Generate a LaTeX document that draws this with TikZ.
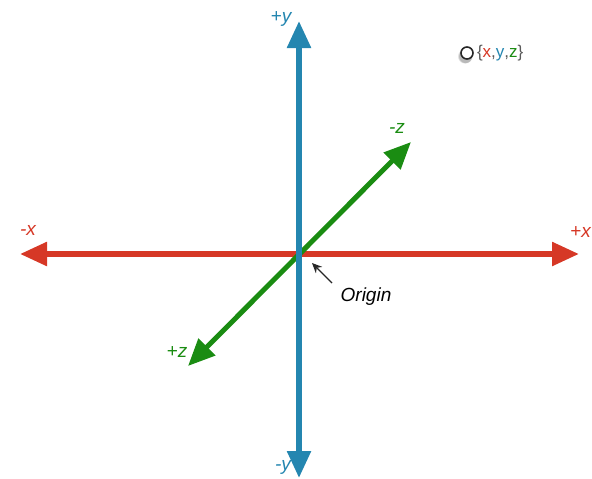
\documentclass[tikz,border=0pt]{standalone}
\usepackage{fontspec}
\setmainfont{Liberation Sans}
\usetikzlibrary{arrows.meta,shadows}

\definecolor{axisred}{RGB}{214,56,38}
\definecolor{axisblue}{RGB}{36,134,176}
\definecolor{axisgreen}{RGB}{26,140,18}
\definecolor{bracegray}{RGB}{90,90,90}

\begin{document}
\begin{tikzpicture}[
  x=1pt, y=-1pt,
  every node/.style={font=\fontsize{19}{21}\selectfont\itshape},
  axis/.style={
    draw=#1,
    line width=5.5pt,
    {Triangle[length=27pt,width=23pt,fill=#1]}-{Triangle[length=27pt,width=23pt,fill=#1]}
  },
  axislabel/.style={text=#1, inner sep=0pt},
  pointer/.style={-{Stealth[length=10pt,width=9pt]}, line width=1.4pt, draw=black!85},
]
\useasboundingbox (0,0) rectangle (592,479);

% Axis end points.
\coordinate (O) at (299,254);
\coordinate (xneg) at (20,254);
\coordinate (xpos) at (579,254);
\coordinate (ypos) at (299,21);
\coordinate (yneg) at (299,478);
\coordinate (zneg) at (411,142);
\coordinate (zpos) at (188,366);

% Axes.
\draw[axis=axisred] (xneg) -- (xpos);
\draw[axis=axisgreen, line width=5pt] (zpos) -- (zneg);
\draw[axis=axisblue] (yneg) -- (ypos);

% Axis labels.
\node[axislabel=axisred] (lxneg) at (28,230) {-x};
\node[axislabel=axisred, anchor=east] (lxpos) at (591,232) {+x};
\node[axislabel=axisblue] (lypos) at (281,19) {+y};
\node[axislabel=axisblue] (lyneg) at (283,467) {-y};
\node[axislabel=axisgreen] (lzneg) at (397,128) {-z};
\node[axislabel=axisgreen] (lzpos) at (177,352) {+z};

% Origin.
\node (origlabel) at (366,297) {Origin};
\draw[pointer] (332,283) coordinate (otail) -- (312,263) coordinate (ohead);

% Point legend.
\node[circle, draw=black!85, line width=1.6pt, fill=white, minimum size=12pt, inner sep=0pt,
  circular drop shadow={shadow xshift=-1.5pt, shadow yshift=-2.5pt, opacity=0.55, shadow scale=1.25}] (pt) at (467,53) {};
\node[anchor=west, font=\fontsize{17}{19}\selectfont, text=bracegray, inner sep=0pt]
  (coords) at ([xshift=3pt]pt.east) {\{\textcolor{axisred}{x},\textcolor{axisblue}{y},\textcolor{axisgreen}{z}\}};

\end{tikzpicture}
\end{document}
